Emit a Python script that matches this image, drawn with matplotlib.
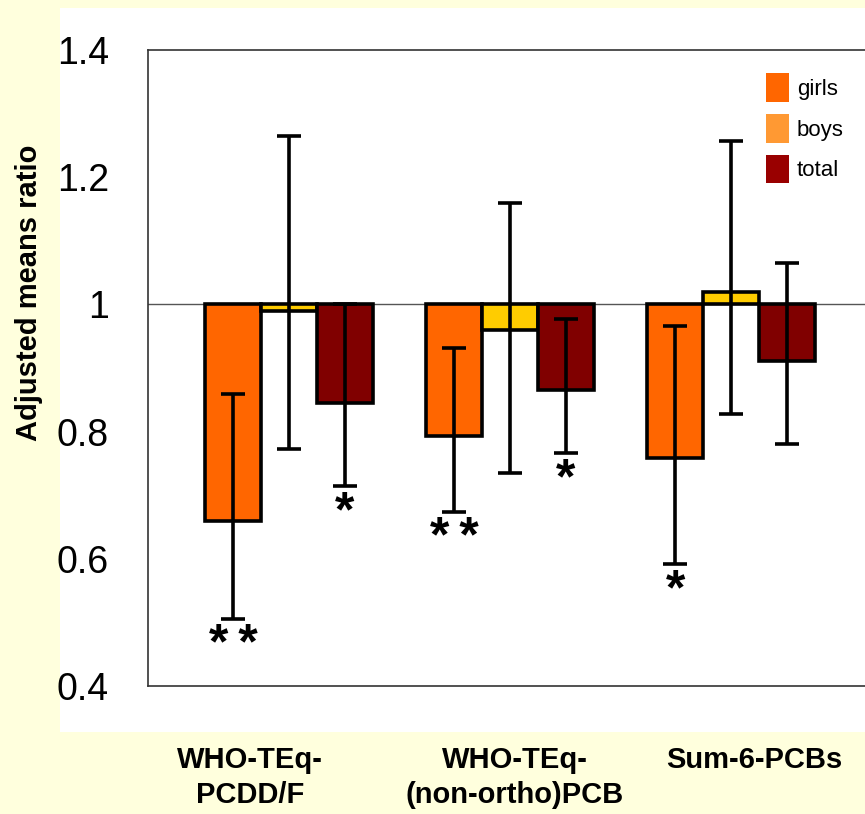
import matplotlib.pyplot as plt
import numpy as np
from matplotlib.patches import Patch, Rectangle

plt.rcParams['font.family'] = ['Liberation Sans', 'DejaVu Sans']

# data
categories = ['WHO-TEq-\nPCDD/F', 'WHO-TEq-\n(non-ortho)PCB', 'Sum-6-PCBs']
girls = [0.659, 0.793, 0.758]
girls_lo = [0.505, 0.674, 0.592]
girls_hi = [0.859, 0.931, 0.966]
boys = [0.990, 0.960, 1.019]
boys_lo = [0.773, 0.735, 0.828]
boys_hi = [1.265, 1.159, 1.257]
total = [0.845, 0.865, 0.911]
total_lo = [0.714, 0.766, 0.780]
total_hi = [1.000, 0.977, 1.065]
girls_stars = ['*\u2009*', '*\u2009*', '*']
total_stars = ['*', '*', '']
yticks = [0.4, 0.6, 0.8, 1.0, 1.2, 1.4]
ytick_labels = ['0.4', '0.6', '0.8', '1', '1.2', '1.4']

# colours
c_girls = '#FF6600'
c_boys = '#FFCC00'
c_total = '#800000'

fig = plt.figure(figsize=(8.65, 8.14), dpi=100)
fig.patch.set_facecolor('#FFFFDD')
# white panel behind the chart
fig.patches.append(Rectangle((60/865, 1-732/814), 1-60/865, (732-8)/814,
                             transform=fig.transFigure, facecolor='white',
                             edgecolor='none', zorder=-10))

ax = fig.add_axes([148/865, 1-686/814, (865-148)/865, 636/814])
ax.set_zorder(1)
ax.set_facecolor('white')

x = np.arange(len(categories))
w = 0.253
series = [(girls, girls_lo, girls_hi, c_girls, -w),
          (boys, boys_lo, boys_hi, c_boys, 0),
          (total, total_lo, total_hi, c_total, w)]

ax.axhline(1.0, color='#555555', lw=1, zorder=1)

for vals, lo, hi, col, off in series:
    vals = np.array(vals)
    ax.bar(x + off, vals - 1, bottom=1, width=w, color=col,
           edgecolor='black', linewidth=2.6, zorder=2)
    err = [vals - np.array(lo), np.array(hi) - vals]
    ax.errorbar(x + off, vals, yerr=err, fmt='none', ecolor='black',
                elinewidth=2.6, capsize=8.5, capthick=2.6, zorder=3)

# significance stars under lower caps
for i in range(len(x)):
    if girls_stars[i]:
        ax.annotate(girls_stars[i], (x[i] - w, girls_lo[i]), xytext=(0, -3),
                    textcoords='offset points', ha='center', va='top',
                    fontsize=36, fontweight='bold')
    if total_stars[i]:
        ax.annotate(total_stars[i], (x[i] + w, total_lo[i]), xytext=(0, -3),
                    textcoords='offset points', ha='center', va='top',
                    fontsize=36, fontweight='bold')

ax.set_ylim(0.4, 1.4)
ax.set_xlim(-0.638, 2.606)
ax.set_yticks(yticks)
ax.set_yticklabels(ytick_labels)
ax.tick_params(axis='y', length=0, pad=28, labelsize=27)

# category labels (slightly off the group centres, as in the original)
ax.set_xticks(x + np.array([-0.176, 0.023, 0.104]))
ax.set_xticklabels(categories, fontsize=21, fontweight='bold', va='top',
                   linespacing=1.35)
ax.tick_params(axis='x', length=0, pad=43)
for lbl in ax.get_xticklabels():
    lbl.set_ha('center')
    lbl.set_multialignment('center')

for s in ['left', 'top', 'bottom']:
    ax.spines[s].set_color('#333333')
    ax.spines[s].set_linewidth(1.2)
ax.spines['right'].set_visible(False)

fig.text(29/865, 1-293/814, 'Adjusted means ratio', rotation=90,
         ha='center', va='center', fontsize=21, fontweight='bold')

handles = [Patch(facecolor='#FF6600', edgecolor='none'),
           Patch(facecolor='#FF9933', edgecolor='none'),
           Patch(facecolor='#990000', edgecolor='none')]
ax.legend(handles, ['girls', 'boys', 'total'], loc='upper right',
          bbox_to_anchor=(0.998, 0.995), frameon=False, fontsize=16,
          handlelength=1.05, handleheight=1.6, handletextpad=0.35,
          labelspacing=0.55)

fig.savefig('out.png', dpi=100, facecolor=fig.get_facecolor())
